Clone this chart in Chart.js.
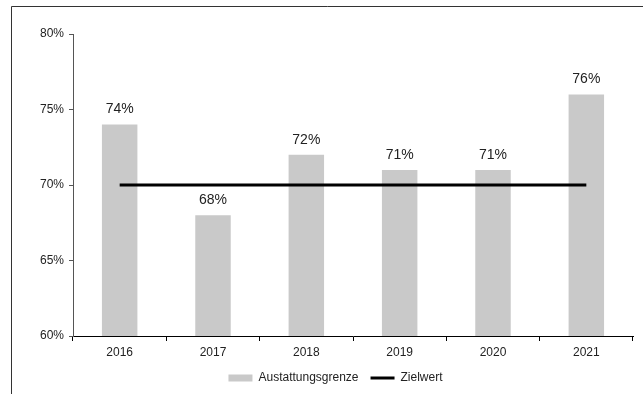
<!DOCTYPE html>
<html>
<head>
<meta charset="utf-8">
<script src="https://cdn.jsdelivr.net/npm/chart.js@4/dist/chart.umd.min.js"></script>
<style>
  html, body { margin: 0; padding: 0; background: #fff; }
  #wrap { position: relative; width: 643px; height: 394px; }
</style>
</head>
<body>
<div id="wrap"><canvas id="chart" width="643" height="394"></canvas></div>
<script>
const years = ["2016", "2017", "2018", "2019", "2020", "2021"];
const ausstattung = [74, 68, 72, 71, 71, 76];
const zielwert = [70, 70, 70, 70, 70, 70];
const yTicks = [60, 65, 70, 75, 80];

const fontFamily = "'Liberation Sans', Arial, sans-serif";

// frame lines along the top and left of the figure
const framePlugin = {
  id: "frame",
  beforeDraw(chart) {
    const { ctx } = chart;
    ctx.save();
    ctx.strokeStyle = "#333";
    ctx.lineWidth = 1;
    ctx.beginPath();
    ctx.moveTo(11.5, chart.height);
    ctx.lineTo(11.5, 6.5);
    ctx.lineTo(chart.width, 6.5);
    ctx.stroke();
    ctx.restore();
  },
};

// percentage labels above the bars
const valueLabels = {
  id: "valueLabels",
  afterDatasetsDraw(chart) {
    const { ctx } = chart;
    const meta = chart.getDatasetMeta(1);
    ctx.save();
    ctx.font = "14px " + fontFamily;
    ctx.fillStyle = "#222";
    ctx.textAlign = "center";
    ctx.textBaseline = "bottom";
    meta.data.forEach((bar, i) => {
      ctx.fillText(ausstattung[i] + "%", bar.x, bar.y - 8);
    });
    ctx.restore();
  },
};

new Chart(document.getElementById("chart"), {
  data: {
    labels: years,
    datasets: [
      {
        type: "line",
        label: "Zielwert",
        data: zielwert,
        borderColor: "#000",
        backgroundColor: "#000",
        borderWidth: 3,
        pointRadius: 0,
        order: 0,
      },
      {
        type: "bar",
        label: "Austattungsgrenze",
        data: ausstattung,
        backgroundColor: "#c9c9c9",
        borderWidth: 0,
        categoryPercentage: 1,
        barPercentage: 0.38,
        order: 1,
      },
    ],
  },
  options: {
    responsive: false,
    animation: false,
    layout: { padding: { top: 34, right: 10, left: 38, bottom: 0 } },
    plugins: {
      tooltip: { enabled: false },
      legend: {
        position: "bottom",
        reverse: true,
        labels: {
          usePointStyle: true,
          pointStyleWidth: 24,
          boxHeight: 7,
          padding: 12,
          color: "#222",
          font: { family: fontFamily, size: 12 },
          generateLabels(chart) {
            return chart.data.datasets.map((ds, i) => ({
              text: ds.label,
              datasetIndex: i,
              fillStyle: ds.type === "bar" ? ds.backgroundColor : "#000",
              strokeStyle: "#000",
              lineWidth: ds.type === "bar" ? 0 : 3,
              pointStyle: ds.type === "bar" ? "rect" : "line",
              fontColor: "#222",
            }));
          },
        },
      },
    },
    scales: {
      x: {
        offset: true,
        grid: {
          offset: true,
          drawOnChartArea: false,
          drawTicks: true,
          tickLength: 5,
          color: "#000",
        },
        border: { color: "#000", width: 1 },
        ticks: { color: "#222", font: { family: fontFamily, size: 12 }, padding: 4 },
        afterFit(scale) { scale.height = 24; },
      },
      y: {
        min: 60,
        max: 80,
        afterBuildTicks(scale) {
          scale.ticks = yTicks.map((v) => ({ value: v }));
        },
        grid: {
          drawOnChartArea: false,
          drawTicks: true,
          tickLength: 4,
          color: "#555",
        },
        border: { color: "#555", width: 1 },
        ticks: {
          color: "#222",
          font: { family: fontFamily, size: 12 },
          padding: 5,
          callback: (v) => v + "%",
        },
        afterFit(scale) { scale.width = 35; },
      },
    },
  },
  plugins: [framePlugin, valueLabels],
});
</script>
</body>
</html>
